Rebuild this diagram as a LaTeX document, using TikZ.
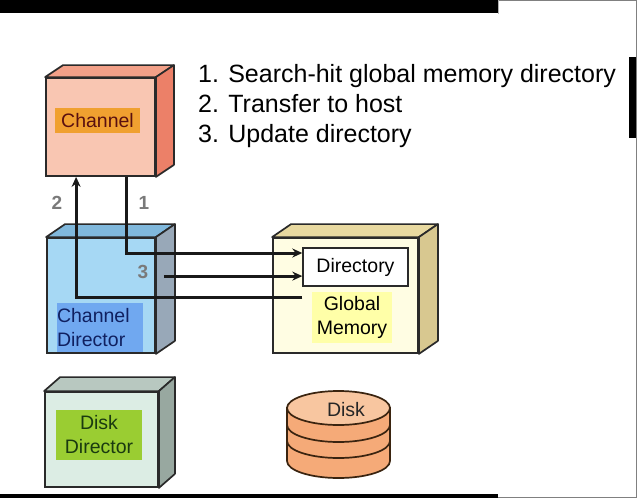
\documentclass[tikz,border=0pt]{standalone}
\usepackage{fontspec}
\setmainfont{Liberation Sans}
\usetikzlibrary{calc,arrows.meta}
\definecolor{edge}{HTML}{2A2A2A}
\definecolor{chanF}{HTML}{F9C6B2}
\definecolor{chanT}{HTML}{F2A088}
\definecolor{chanS}{HTML}{EC8068}
\definecolor{chanL}{HTML}{F0A030}
\definecolor{chanTx}{HTML}{5A1010}
\definecolor{cdirF}{HTML}{A6D8F4}
\definecolor{cdirT}{HTML}{80B8DC}
\definecolor{cdirS}{HTML}{98A8B8}
\definecolor{cdirL}{HTML}{70A8F0}
\definecolor{cdirTx}{HTML}{102060}
\definecolor{gmemF}{HTML}{FFFDE3}
\definecolor{gmemT}{HTML}{E8D9A0}
\definecolor{gmemS}{HTML}{D8C890}
\definecolor{gmemL}{HTML}{FFFFA8}
\definecolor{ddirF}{HTML}{DCEDE4}
\definecolor{ddirT}{HTML}{B8C8C0}
\definecolor{ddirS}{HTML}{98A8A0}
\definecolor{ddirL}{HTML}{9ACD32}
\definecolor{ddirTx}{HTML}{1A3A10}
\definecolor{diskF}{HTML}{F5AA78}
\definecolor{diskT}{HTML}{F8C6A0}
\definecolor{diskE}{HTML}{3A2410}
\definecolor{numc}{HTML}{7A7A7A}
\newcommand\drawcube[5]{%
  \filldraw[fill=#4, draw=edge, line width=1.7pt, line join=round]
    (#1.north west) -- ++(#2,#3) -- ($(#1.north east)+(#2,#3)$) -- (#1.north east) -- cycle;
  \filldraw[fill=#5, draw=edge, line width=1.7pt, line join=round]
    (#1.north east) -- ++(#2,#3) -- ($(#1.south east)+(#2,#3)$) -- (#1.south east) -- cycle;}
\begin{document}
\begin{tikzpicture}[x=1pt,y=-1pt,
  front/.style={draw=edge, line width=1.8pt, inner sep=0pt},
  lab/.style={inner sep=0pt, font=\fontsize{19.5}{24}\selectfont, align=center},
  listtxt/.style={anchor=base west, inner sep=0pt, font=\fontsize{25}{30}\selectfont},
  num/.style={inner sep=0pt, text=numc, font=\fontsize{19}{22}\selectfont\bfseries},
  arr/.style={line width=3pt, draw=black!90, -{Stealth[length=10pt,width=9pt]}}]
\fill[white] (0,0) rectangle (637,498);
\useasboundingbox (0,0) rectangle (637,498);
% frame
\fill[black] (0,0) rectangle (498,13);
\fill[black] (629,57) rectangle (637,138);
\fill[black] (0,494) rectangle (498,498);
\draw[gray, line width=1pt] (498,0.5) -- (636.5,0.5) -- (636.5,497.5) -- (498,497.5);
\draw[gray!60, line width=0.8pt] (498.5,0) -- (498.5,14);
% list
\node[listtxt] (t1) at (198,82) {1. Search-hit global memory directory};
\node[listtxt] (t2) at (198,112) {2. Transfer to host};
\node[listtxt] (t3) at (198,142) {3. Update directory};
% Channel
\node[front, fill=chanF, minimum width=109pt, minimum height=98pt] (chan) at (100.5,127) {};
\drawcube{chan}{18}{-12}{chanT}{chanS}
\node[lab, fill=chanL, text=chanTx, minimum width=85pt, minimum height=25pt] (chanl) at (97.5,120.5) {Channel};
% Channel Director
\node[front, fill=cdirF, minimum width=108pt, minimum height=115pt] (cdir) at (101,295.5) {};
\drawcube{cdir}{19}{-13}{cdirT}{cdirS}
\node[lab, fill=cdirL, text=cdirTx, minimum height=49pt, align=left, text width=86pt] (cdirl) at (100,327.5) {Channel\\Director};
% Global memory
\node[front, fill=gmemF, minimum width=145pt, minimum height=115pt] (gmem) at (345.5,295.5) {};
\drawcube{gmem}{19}{-13}{gmemT}{gmemS}
\node[draw=edge, line width=1.4pt, fill=white, inner sep=0pt, minimum width=105pt, minimum height=38pt, font=\fontsize{19.5}{24}\selectfont] (dir) at (355.5,267) {Directory};
\node[lab, fill=gmemL, minimum width=80pt, minimum height=51pt] (gml) at (352,317.5) {Global\\Memory};
% Disk Director
\node[front, fill=ddirF, minimum width=113pt, minimum height=95pt] (ddir) at (101.5,439.5) {};
\drawcube{ddir}{16}{-14}{ddirT}{ddirS}
\node[lab, fill=ddirL, text=ddirTx, minimum width=86pt, minimum height=50pt] (ddirl) at (99,435) {Disk\\Director};
% Disk
\filldraw[fill=diskF, draw=diskE, line width=1.7pt] (287,408) -- (287,461)
  arc[start angle=180, end angle=360, x radius=51.5pt, y radius=17pt] -- (390,408) -- cycle;
\filldraw[fill=diskT, draw=diskE, line width=1.7pt] (338.5,408) ellipse [x radius=51.5pt, y radius=17pt];
\draw[draw=diskE, line width=1.7pt] (287,425) arc[start angle=180, end angle=360, x radius=51.5pt, y radius=17pt];
\draw[draw=diskE, line width=1.7pt] (287,441) arc[start angle=180, end angle=360, x radius=51.5pt, y radius=17pt];
\node[lab, text=black!85] (diskl) at (346,410) {Disk};
% connectors
\coordinate (g2) at ($(dir.south west)+(0,11)$);
\coordinate (c2) at ($(chan.south west)+(31,0)$);
\coordinate (c1) at ($(chan.south west)+(81,0)$);
\coordinate (c3) at ($(cdir.north east)+(8,39)$);
\draw[arr] (g2) -| (c2);
\draw[arr] (c1) |- ($(dir.west)+(0,-14)$);
\draw[arr] (c3) -- (dir.west |- c3);
\node[num] (n2) at (57,203) {2};
\node[num] (n1) at (144,203) {1};
\node[num] (n3) at (143,272) {3};
\end{tikzpicture}
\end{document}
